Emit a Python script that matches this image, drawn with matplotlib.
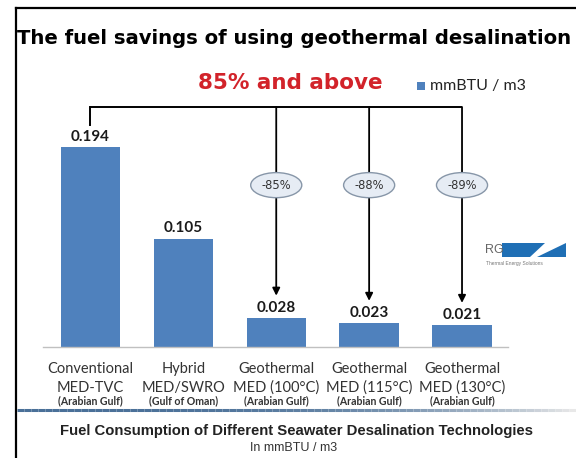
import matplotlib
matplotlib.use("Agg")
import matplotlib.pyplot as plt
import numpy as np
from matplotlib.patches import Ellipse, Polygon
from matplotlib.lines import Line2D
from matplotlib.collections import LineCollection

# data
categories = ["Conventional", "Hybrid", "Geothermal", "Geothermal", "Geothermal"]
tech_labels = ["MED-TVC", "MED/SWRO", "MED (100°C)", "MED (115°C)", "MED (130°C)"]
regions = ["(Arabian Gulf)", "(Gulf of Oman)", "(Arabian Gulf)", "(Arabian Gulf)", "(Arabian Gulf)"]
fuel = [0.194, 0.105, 0.028, 0.023, 0.021]
saving_bars = [2, 3, 4]
saving_labels = ["-85%", "-88%", "-89%"]

W, H = 576, 458
BLUE = "#4F81BD"


def fx(px):
    return px / W


def fy(py):
    return 1 - py / H


fig = plt.figure(figsize=(W / 100, H / 100), dpi=100)
fig.patch.set_facecolor("white")

# slide frame
fig.add_artist(Line2D([fx(16), fx(16)], [0, fy(8)], color="black", lw=1.6))
fig.add_artist(Line2D([fx(16), 1], [fy(8), fy(8)], color="black", lw=1.6))

fig.text(fx(17), fy(39), "The fuel savings of using geothermal desalination",
         fontsize=14.1, fontweight="bold", family="DejaVu Sans", va="center", ha="left")
fig.text(fx(290), fy(83), "85% and above", fontsize=15.5, fontweight="bold",
         family="DejaVu Sans", color="#D2232A", ha="center", va="center")
fig.add_artist(Polygon([[fx(417), fy(82)], [fx(425), fy(82)], [fx(425), fy(90)], [fx(417), fy(90)]],
                       closed=True, transform=fig.transFigure, fc=BLUE, ec="none"))
fig.text(fx(430), fy(86), "mmBTU / m3", fontsize=11.5, family="Lato", color="#222222",
         ha="left", va="center")

# chart area
ax = fig.add_axes([fx(43), fy(347), (508 - 43) / W, (347 - 100) / H])
x = np.arange(len(fuel))
ax.bar(x, fuel, width=0.64, color=BLUE, zorder=2)
ax.set_xlim(-0.511, 4.495)
ax.set_ylim(0, 0.2396)
for s in ["top", "right", "left"]:
    ax.spines[s].set_visible(False)
ax.spines["bottom"].set_color("#c0c0c0")
ax.spines["bottom"].set_linewidth(1.0)
ax.set_xticks([])
ax.set_yticks([])

for i, v in enumerate(fuel):
    ax.annotate(f"{v:.3f}", xy=(i, v), xytext=(0, 7.5), textcoords="offset points",
                ha="center", va="center", fontsize=11, fontweight="bold", family="Lato",
                color="#1a1a1a")
    ax.annotate(categories[i], xy=(i, 0), xytext=(0, -15.5), textcoords="offset points",
                ha="center", va="center", fontsize=10.5, family="Lato", color="#333333",
                annotation_clip=False)
    ax.annotate(tech_labels[i], xy=(i, 0), xytext=(0, -29.5), textcoords="offset points",
                ha="center", va="center", fontsize=10.5, family="Lato", color="#333333",
                annotation_clip=False)
    ax.annotate(regions[i], xy=(i, 0), xytext=(0, -38.5), textcoords="offset points",
                ha="center", va="center", fontsize=7.6, fontweight="bold", family="Lato",
                color="#333333", annotation_clip=False)

# connector with arrows
top_y = 0.2328
gap = 0.0218
ell_y = 0.157
ax.plot([0, x[-1]], [top_y, top_y], color="black", lw=1.4, clip_on=False, zorder=3,
        solid_capstyle="butt")
ax.plot([0, 0], [top_y, fuel[0] + gap], color="black", lw=1.4, clip_on=False, zorder=3)
for i, lab in zip(saving_bars, saving_labels):
    ax.annotate("", xy=(i, fuel[i] + gap), xytext=(i, top_y),
                arrowprops=dict(arrowstyle="-|>", color="black", lw=1.3, mutation_scale=11,
                                shrinkA=0, shrinkB=0),
                annotation_clip=False, zorder=3)
    ax.add_patch(Ellipse((i, ell_y), 0.55, 0.0243, fc="#e6ecf4", ec="#8796a8", lw=1.0, zorder=4))
    ax.text(i, ell_y, lab, ha="center", va="center", fontsize=8.3, color="#333333",
            family="Liberation Sans Narrow", zorder=5)

# logo
fig.text(fx(485), fy(250), "RG", fontsize=9, family="Liberation Sans", color="#666666",
         ha="left", va="center")
fig.add_artist(Polygon([[fx(502), fy(243)], [fx(545), fy(243)], [fx(530), fy(257)], [fx(502), fy(257)]],
                       closed=True, transform=fig.transFigure, fc="#1f6fb5", ec="none"))
fig.add_artist(Polygon([[fx(566), fy(243)], [fx(566), fy(257)], [fx(537), fy(257)]],
                       closed=True, transform=fig.transFigure, fc="#1f6fb5", ec="none"))
fig.text(fx(486), fy(263), "Thermal Energy Solutions", fontsize=3.5, family="Liberation Sans",
         color="#777777", ha="left", va="center")

# slide separator line, fading to the right
xs = np.linspace(fx(17), 1, 80)
segs = [[(xs[k], fy(410)), (xs[k + 1], fy(410))] for k in range(len(xs) - 1)]
c0 = np.array([0x4a, 0x70, 0x98]) / 255
c1 = np.array([0xe8, 0xe8, 0xe8]) / 255
t = np.linspace(0, 1, len(segs)) ** 3
cols = [tuple(c0 * (1 - a) + c1 * a) for a in t]
fig.add_artist(LineCollection(segs, colors=cols, linewidths=2.2, transform=fig.transFigure))

fig.text(fx(296), fy(431), "Fuel Consumption of Different Seawater Desalination Technologies",
         fontsize=10.7, fontweight="bold", family="Liberation Sans", color="#222222",
         ha="center", va="center")
fig.text(fx(294), fy(448), "In mmBTU / m3", fontsize=9, family="Liberation Sans",
         color="#333333", ha="center", va="center")

fig.savefig("out.png", dpi=100)
